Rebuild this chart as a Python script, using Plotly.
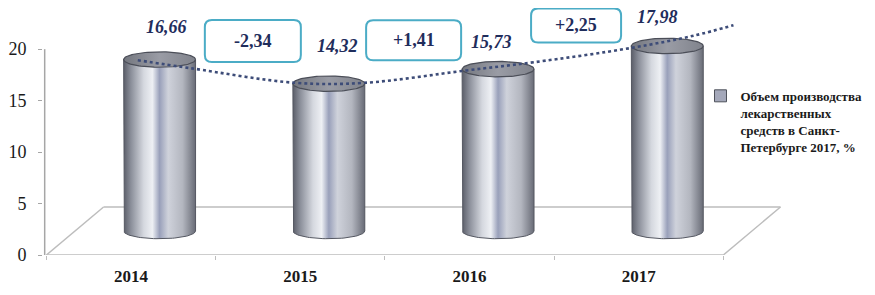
import numpy as np
import plotly.graph_objects as go

# ---------------- data ----------------
years = ['2014', '2015', '2016', '2017']
values = [16.66, 14.32, 15.73, 17.98]
# dotted trend line (x in category index units, value units)
trend_x = [0.04, 0.36, 0.97, 1.38, 1.98, 2.38, 2.96, 3.33, 3.56]
trend_vals = [16.6, 15.8, 14.4, 14.4, 15.6, 16.4, 17.8, 19.0, 20.0]
legend_name = 'Объем производства<br>лекарственных<br>средств в Санкт-<br>Петербурге 2017, %'

# ---------------- geometry / style ----------------
FONT = 'Liberation Serif'
NAVY = '#1f2d5c'
DX, DY = 0.338, 4.66          # 3D depth offset of the floor
BASE = DY / 2                 # cylinders stand mid-depth
RX, RY = 0.2125, 0.75         # cylinder ellipse radii
XR = [-0.52, 3.9]
YR = [0, 24]

fig = go.Figure()

body_scale = [[0, '#5b5e69'], [0.1, '#8a8e99'], [0.28, '#d5d8df'], [0.4, '#eef0f4'],
              [0.5, '#99a0ba'], [0.62, '#cfd2db'], [0.82, '#b3b6bf'], [1, '#686b76']]
cap_scale = [[0, '#74777f'], [0.5, '#9a9ca5'], [1, '#80838c']]

theta = np.linspace(np.pi, 2 * np.pi, 48)
t = np.linspace(0, 2 * np.pi, 96)
for i, v in enumerate(values):
    cx = i + DX / 2
    top = BASE + v
    bx = [cx - RX] + list(cx + RX * np.cos(theta)) + [cx + RX, cx - RX]
    by = [top] + list(BASE + RY * np.sin(theta)) + [top, top]
    fig.add_trace(go.Scatter(x=bx, y=by, fill='toself', mode='lines',
                             line=dict(color='#555862', width=1),
                             fillgradient=dict(type='horizontal', colorscale=body_scale),
                             showlegend=False, hoverinfo='skip'))
    fig.add_trace(go.Scatter(x=cx + RX * np.cos(t), y=top + RY * np.sin(t), fill='toself',
                             mode='lines', line=dict(color='#4b4e58', width=1.2),
                             fillgradient=dict(type='horizontal', colorscale=cap_scale),
                             showlegend=False, hoverinfo='skip'))

# dotted trend line
fig.add_trace(go.Scatter(x=trend_x, y=[BASE + v for v in trend_vals], mode='lines',
                         line=dict(color='#3d4c78', width=2.6, dash='dot', shape='spline'),
                         showlegend=False, hoverinfo='skip'))

# legend entry (category axis holder)
fig.add_trace(go.Bar(x=years, y=[None] * len(years), xaxis='x2', name=legend_name,
                     marker=dict(color='#a4a8ba', line=dict(color='#4d505a', width=1)),
                     showlegend=True, hoverinfo='skip'))

# floor
floor_col = '#bdbdbd'
shapes = [
    dict(type='line', xref='x', yref='y', x0=-0.5, y0=0, x1=3.5, y1=0),
    dict(type='line', xref='x', yref='y', x0=-0.5, y0=0, x1=-0.5 + DX, y1=DY),
    dict(type='line', xref='x', yref='y', x0=-0.5 + DX, y0=DY, x1=3.5 + DX, y1=DY),
    dict(type='line', xref='x', yref='y', x0=3.5, y0=0, x1=3.5 + DX, y1=DY),
]
for s in shapes:
    s.update(layer='below', line=dict(color=floor_col, width=1.5))
# y axis line (only up to 20)
shapes.append(dict(type='line', xref='x', yref='y', x0=-0.51, x1=-0.51, y0=0, y1=20,
                   layer='below', line=dict(color='#a6a6a6', width=1.5)))

annotations = []
# value labels
label_dx = [0.21, 0.22, 0.13, 0.11]
label_dy = [3.2, 3.7, 2.6, 2.8]
for i, v in enumerate(values):
    annotations.append(dict(x=i + label_dx[i], y=BASE + v + label_dy[i], xref='x', yref='y',
                            text='<b><i>' + f'{v:.2f}'.replace('.', ',') + '</i></b>',
                            showarrow=False, font=dict(family=FONT, size=18, color=NAVY)))

# change boxes
box_dx = [0.72, 0.67, 0.63]
box_dy = [1.8, 2.8, 2.0]
box_size = [(96, 42), (95, 40), (90, 34)]
for i in range(len(values) - 1):
    d = values[i + 1] - values[i]
    bxc = i + box_dx[i]
    byc = BASE + max(values[i], values[i + 1]) + box_dy[i]
    w, h = box_size[i]
    hw, hh, r = w / 2, h / 2, 7
    path = (f'M {-hw + r},{-hh} L {hw - r},{-hh} Q {hw},{-hh} {hw},{-hh + r} '
            f'L {hw},{hh - r} Q {hw},{hh} {hw - r},{hh} L {-hw + r},{hh} '
            f'Q {-hw},{hh} {-hw},{hh - r} L {-hw},{-hh + r} Q {-hw},{-hh} {-hw + r},{-hh} Z')
    shapes.append(dict(type='path', xref='x', yref='y', xsizemode='pixel', ysizemode='pixel',
                       xanchor=bxc, yanchor=byc, path=path, fillcolor='white',
                       line=dict(color='#4bacc6', width=2), layer='above'))
    annotations.append(dict(x=bxc, y=byc, xref='x', yref='y',
                            text='<b>' + f'{d:+.2f}'.replace('.', ',') + '</b>',
                            showarrow=False, font=dict(family=FONT, size=18, color=NAVY)))

# the page body adds an 8px margin, so the figure is 8px smaller and margins shifted
fig.update_layout(
    width=867, height=287,
    margin=dict(l=24, r=84, t=0, b=40),
    paper_bgcolor='white', plot_bgcolor='white',
    font=dict(family=FONT, color='#1a1a1a'),
    xaxis=dict(range=XR, showgrid=False, zeroline=False, showticklabels=False,
               showline=False, ticks='', fixedrange=True),
    xaxis2=dict(overlaying='x', side='bottom', type='category', categoryorder='array',
                categoryarray=years, range=XR, tickson='boundaries', ticks='outside',
                ticklen=4, tickcolor=floor_col, showgrid=False, zeroline=False, showline=False,
                ticklabelstandoff=9,
                tickfont=dict(family=FONT, size=17, color='#1a1a1a', weight='bold')),
    yaxis=dict(range=YR, tickvals=[0, 5, 10, 15, 20], ticks='outside', ticklen=4,
               tickcolor='#a6a6a6', showgrid=False, zeroline=False, showline=False,
               ticklabelstandoff=8,
               tickfont=dict(family=FONT, size=18, color='#1a1a1a')),
    legend=dict(x=0.879, y=0.705, xanchor='left', yanchor='top', valign='top',
                bgcolor='rgba(0,0,0,0)',
                font=dict(family=FONT, size=13, color='#1a1a1a', weight='bold')),
    shapes=shapes, annotations=annotations, hovermode=False,
)

fig.write_html('out.html')
